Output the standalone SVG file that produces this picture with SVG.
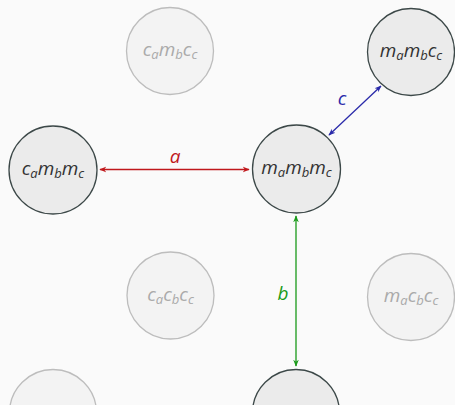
<svg xmlns="http://www.w3.org/2000/svg" width="455" height="405" viewBox="0 0 455 405">
<defs>
<style>
.bg{fill:#fafafa}
.n circle{fill:#ebebeb;stroke:#3c4848;stroke-width:1.3}
.f circle{fill:#f3f3f3;stroke:#bdbdbd;stroke-width:1.3}
text{font-family:"Open Sans","Noto Sans",sans-serif;font-style:italic;text-anchor:middle}
.n text{fill:#333;font-size:19px}
.f text{fill:#aaa;font-size:19px}
.s{font-size:13px}
.lbl{font-size:19px}
</style>
<marker id="ar" viewBox="0 0 10 10" refX="9" refY="5" markerWidth="7" markerHeight="7" orient="auto-start-reverse" markerUnits="userSpaceOnUse"><path d="M0,1 L10,5 L0,9 L3,5 Z" fill="#c0181c"/></marker>
<marker id="ab" viewBox="0 0 10 10" refX="9" refY="5" markerWidth="7" markerHeight="7" orient="auto-start-reverse" markerUnits="userSpaceOnUse"><path d="M0,1 L10,5 L0,9 L3,5 Z" fill="#2a2aaa"/></marker>
<marker id="ag" viewBox="0 0 10 10" refX="9" refY="5" markerWidth="7" markerHeight="7" orient="auto-start-reverse" markerUnits="userSpaceOnUse"><path d="M0,1 L10,5 L0,9 L3,5 Z" fill="#1a9a1a"/></marker>
</defs>
<rect class="bg" x="0" y="0" width="455" height="405"/>
<g id="n_cambcc" class="f"><circle cx="170" cy="51" r="43.5"/><text x="170" y="56">c<tspan class="s" dy="3">a</tspan><tspan dy="-3">m</tspan><tspan class="s" dy="3">b</tspan><tspan dy="-3">c</tspan><tspan class="s" dy="3">c</tspan></text></g>
<g id="n_mambcc" class="n"><circle cx="411" cy="52" r="43.5"/><text x="411" y="57">m<tspan class="s" dy="3">a</tspan><tspan dy="-3">m</tspan><tspan class="s" dy="3">b</tspan><tspan dy="-3">c</tspan><tspan class="s" dy="3">c</tspan></text></g>
<g id="n_cambmc" class="n"><circle cx="53" cy="170" r="44"/><text x="53" y="175">c<tspan class="s" dy="3">a</tspan><tspan dy="-3">m</tspan><tspan class="s" dy="3">b</tspan><tspan dy="-3">m</tspan><tspan class="s" dy="3">c</tspan></text></g>
<g id="n_mambmc" class="n"><circle cx="296.5" cy="169" r="44"/><text x="296.5" y="174">m<tspan class="s" dy="3">a</tspan><tspan dy="-3">m</tspan><tspan class="s" dy="3">b</tspan><tspan dy="-3">m</tspan><tspan class="s" dy="3">c</tspan></text></g>
<g id="n_cacbcc" class="f"><circle cx="170.5" cy="295.5" r="43.5"/><text x="170.5" y="301">c<tspan class="s" dy="3">a</tspan><tspan dy="-3">c</tspan><tspan class="s" dy="3">b</tspan><tspan dy="-3">c</tspan><tspan class="s" dy="3">c</tspan></text></g>
<g id="n_macbcc" class="f"><circle cx="411" cy="297" r="43.5"/><text x="411" y="302">m<tspan class="s" dy="3">a</tspan><tspan dy="-3">c</tspan><tspan class="s" dy="3">b</tspan><tspan dy="-3">c</tspan><tspan class="s" dy="3">c</tspan></text></g>
<g id="n_bl" class="f"><circle cx="53" cy="413" r="43.5"/></g>
<g id="n_bm" class="n"><circle cx="296" cy="413" r="43.5"/></g>
<g id="edges">
<line x1="100" y1="169.5" x2="249" y2="169.5" stroke="#c0181c" stroke-width="1.3" marker-start="url(#ar)" marker-end="url(#ar)"/>
<text class="lbl" x="175" y="163" fill="#c0181c">a</text>
<line x1="329" y1="135" x2="381" y2="86" stroke="#2a2aaa" stroke-width="1.3" marker-start="url(#ab)" marker-end="url(#ab)"/>
<text class="lbl" x="342" y="105" fill="#2a2aaa">c</text>
<line x1="296" y1="216" x2="296" y2="366" stroke="#1a9a1a" stroke-width="1.3" marker-start="url(#ag)" marker-end="url(#ag)"/>
<text class="lbl" x="283" y="300" fill="#1a9a1a">b</text>
</g>
</svg>
